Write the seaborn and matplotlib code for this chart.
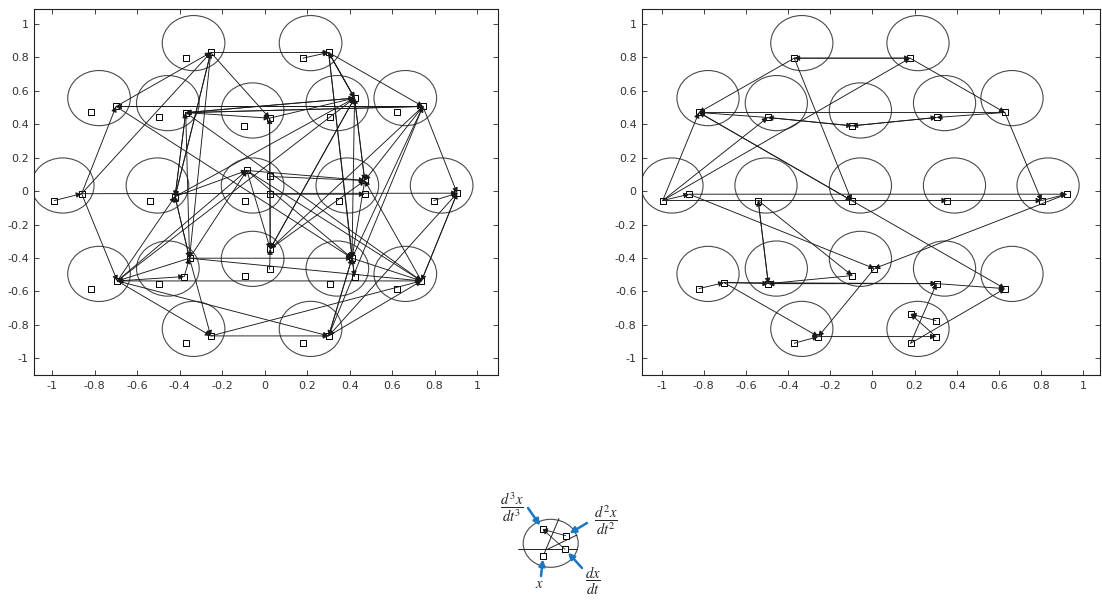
import numpy as np
import matplotlib
matplotlib.use("Agg")
import matplotlib.pyplot as plt
from matplotlib.patches import Ellipse
import seaborn as sns

# circle centres (same layout in both panels)
circle_x = [-0.335, 0.216,
            -0.78, -0.456, -0.057, 0.342, 0.662,
            -0.951, -0.505, -0.057, 0.389, 0.833,
            -0.78, -0.456, -0.057, 0.342, 0.662,
            -0.335, 0.216]
circle_y = [0.886, 0.886,
            0.557, 0.527, 0.483, 0.527, 0.557,
            0.034, 0.034, 0.034, 0.034, 0.034,
            -0.495, -0.463, -0.405, -0.463, -0.495,
            -0.824, -0.824]

# left panel: state squares and transitions (index pairs, arrow points at 2nd)
left_sq_x = [-0.372, 0.180, -0.819, -0.496, -0.097, 0.306, 0.623,
             -0.991, -0.541, -0.095, 0.351, 0.796,
             -0.819, -0.496, -0.095, 0.306, 0.623, -0.372, 0.180,
             -0.254, 0.301, -0.700, -0.372, 0.023, 0.423, 0.745,
             -0.862, -0.422, -0.084, 0.471, 0.906,
             0.026, -0.354, 0.411, -0.694, 0.738, -0.254, 0.301,
             0.023, 0.023, 0.023, -0.379, 0.423, 0.471]
left_sq_y = [0.796, 0.796, 0.471, 0.441, 0.391, 0.441, 0.471,
             -0.056, -0.056, -0.056, -0.056, -0.056,
             -0.583, -0.553, -0.505, -0.553, -0.583, -0.910, -0.910,
             0.830, 0.830, 0.507, 0.470, 0.437, 0.557, 0.507,
             -0.015, -0.032, 0.124, 0.064, -0.012,
             -0.345, -0.401, -0.401, -0.537, -0.537, -0.866, -0.866,
             0.088, -0.018, -0.467, -0.511, -0.511, -0.018]
left_edges = [(7, 26), (1, 20), (11, 30), (19, 20), (19, 23), (20, 24), (20, 25),
              (20, 33), (20, 42), (21, 19), (26, 21), (26, 19), (26, 34), (21, 25),
              (25, 21), (22, 23), (22, 24), (22, 25), (23, 24), (22, 27), (22, 32),
              (19, 27), (19, 32), (21, 33), (22, 35), (28, 29), (38, 29), (28, 31),
              (28, 35), (23, 31), (26, 30), (24, 29), (24, 31), (24, 33), (25, 29),
              (25, 30), (25, 31), (30, 35), (30, 37), (32, 34), (34, 27), (32, 33),
              (32, 35), (34, 36), (34, 37), (36, 37), (36, 35), (37, 35), (37, 33),
              (33, 35), (31, 29), (31, 24), (29, 33), (27, 32), (32, 36), (41, 32),
              (42, 33), (40, 31), (34, 41), (34, 28), (34, 24), (27, 24), (32, 28),
              (35, 29), (27, 28), (33, 25), (37, 25), (24, 22), (25, 22), (20, 24),
              (27, 22), (32, 27), (35, 34), (33, 37), (29, 24), (28, 33), (35, 30),
              (31, 23), (24, 20), (27, 19), (39, 43)]

# right panel
right_sq_x = [-0.371, 0.178, -0.823, -0.497, -0.096, 0.304, 0.628,
              -0.995, -0.869, -0.542, -0.099, 0.355, 0.802, 0.921,
              -0.823, -0.704, -0.494, -0.096, 0.009, 0.304, 0.628,
              -0.371, -0.257, 0.181, 0.181, 0.301, 0.301]
right_sq_y = [0.796, 0.796, 0.471, 0.441, 0.391, 0.441, 0.471,
              -0.056, -0.018, -0.056, -0.056, -0.056, -0.056, -0.018,
              -0.583, -0.547, -0.553, -0.505, -0.463, -0.553, -0.583,
              -0.910, -0.870, -0.910, -0.735, -0.774, -0.870]
right_edges = [(0, 1), (1, 6), (0, 2), (7, 2), (7, 3), (7, 1), (7, 8), (8, 18),
               (2, 10), (10, 2), (0, 10), (6, 12), (8, 13), (7, 12), (12, 13),
               (9, 16), (16, 9), (9, 17), (10, 20), (13, 18), (3, 2), (4, 3),
               (5, 4), (6, 5), (6, 2), (14, 15), (15, 16), (17, 16), (16, 19),
               (19, 20), (15, 19), (15, 22), (21, 22), (22, 26), (18, 22),
               (23, 19), (23, 20), (25, 24), (26, 24), (10, 11), (1, 0), (4, 5),
               (3, 4), (19, 16)]

tick_vals = [-1, -0.8, -0.6, -0.4, -0.2, 0, 0.2, 0.4, 0.6, 0.8, 1]
tick_labels = ["-1", "-0.8", "-0.6", "-0.4", "-0.2", "0", "0.2", "0.4", "0.6", "0.8", "1"]

# key diagram (figure pixel coordinates)
key_sq_x = [543.3, 565.0, 565.7, 542.7]
key_sq_y = [555.7, 549.3, 535.7, 529.3]
key_labels = [r"$x$", r"$\dfrac{dx}{dt}$", r"$\dfrac{d^2x}{dt^2}$", r"$\dfrac{d^3x}{dt^3}$"]
key_label_x = [539, 593, 606, 512]
key_label_y = [584, 581, 520, 507]
key_tail_x = [541, 582, 587, 528]
key_tail_y = [576, 568, 523, 508]

sns.set_style("ticks")
plt.rcParams["mathtext.fontset"] = "stix"

fig = plt.figure(figsize=(11.02, 6.01), dpi=100)
ax_l = fig.add_axes([0.0311, 0.376, 0.4211, 0.609])
ax_r = fig.add_axes([0.5828, 0.376, 0.4155, 0.609])


def draw_panel(ax, sx, sy, edges, xlim):
    for cx, cy in zip(circle_x, circle_y):
        ax.add_patch(Ellipse((cx, cy), 0.295, 0.33, fill=False,
                             edgecolor="#4a4a4a", lw=0.8, zorder=1))
    sns.scatterplot(x=sx, y=sy, marker="s", s=18, color="white",
                    edgecolor="black", linewidth=0.7, ax=ax, zorder=2)
    for a, b in edges:
        ax.annotate("", xy=(sx[b], sy[b]), xytext=(sx[a], sy[a]),
                    arrowprops=dict(arrowstyle="-|>", color="#1a1a1a", lw=0.65,
                                    mutation_scale=8, shrinkA=0, shrinkB=0),
                    zorder=3)
    ax.set_xlim(*xlim)
    ax.set_ylim(-1.1, 1.09)
    ax.set_xticks(tick_vals)
    ax.set_xticklabels(tick_labels)
    ax.set_yticks(tick_vals)
    ax.set_yticklabels(tick_labels)
    ax.tick_params(direction="in", top=True, right=True, length=3.5, width=0.6,
                   labelsize=8, labelcolor="#333333", pad=4)
    for sp in ax.spines.values():
        sp.set_visible(True)
        sp.set_linewidth(0.8)
        sp.set_color("#222222")


draw_panel(ax_l, left_sq_x, left_sq_y, left_edges, (-1.085, 1.10))
draw_panel(ax_r, right_sq_x, right_sq_y, right_edges, (-1.092, 1.08))

# key diagram
ax_k = fig.add_axes([0, 0, 1, 1])
ax_k.set_xlim(0, 1102)
ax_k.set_ylim(601, 0)
ax_k.axis("off")
ax_k.add_patch(Ellipse((550.7, 543.3), 55, 48, fill=False, edgecolor="#4a4a4a", lw=0.8))
ax_k.plot([518, 577], [549.3, 549.3], color="#202020", lw=0.7)
ax_k.plot([key_sq_x[0], 559], [key_sq_y[0], 518.5], color="#202020", lw=0.7)
ax_k.plot([548, 577], [549, 535], color="#202020", lw=0.7)
for a in (1, 2):
    ax_k.annotate("", xy=(key_sq_x[3], key_sq_y[3]), xytext=(key_sq_x[a], key_sq_y[a]),
                  arrowprops=dict(arrowstyle="-|>", color="#202020", lw=0.6,
                                  mutation_scale=7, shrinkA=0, shrinkB=0))
sns.scatterplot(x=key_sq_x, y=key_sq_y, marker="s", s=16, color="white",
                edgecolor="black", linewidth=0.7, ax=ax_k, zorder=2)
for lab, lx, ly, tx, ty, hx, hy in zip(key_labels, key_label_x, key_label_y,
                                       key_tail_x, key_tail_y, key_sq_x, key_sq_y):
    ax_k.text(lx, ly, lab, fontsize=10.5, ha="center", va="center")
    ax_k.annotate("", xy=(hx + (tx - hx) * 0.18, hy + (ty - hy) * 0.18), xytext=(tx, ty),
                  arrowprops=dict(arrowstyle="-|>", color="#1c77c3", lw=1.8,
                                  mutation_scale=9, shrinkA=0, shrinkB=0))

fig.savefig("out.png", dpi=100)
